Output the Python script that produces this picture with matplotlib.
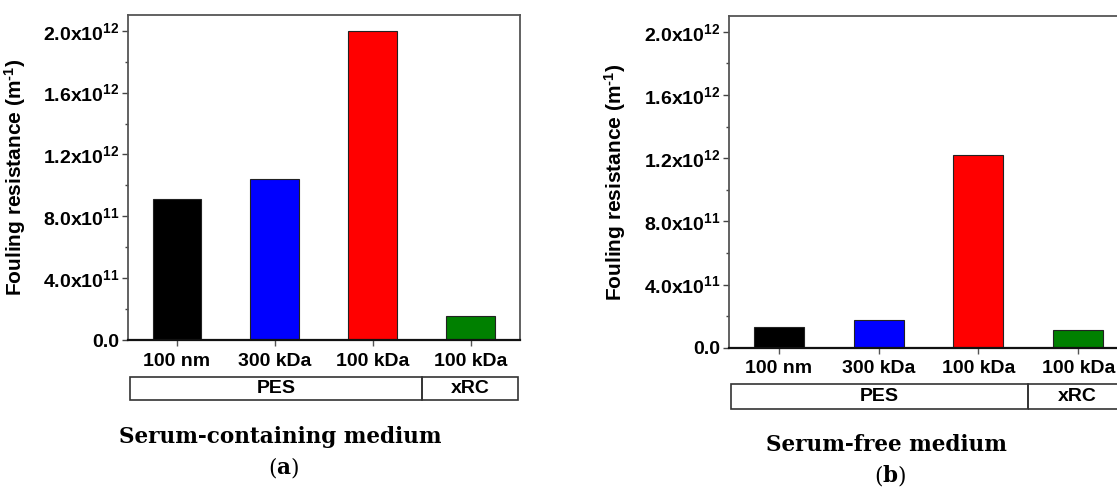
import matplotlib
matplotlib.use("Agg")
import matplotlib.pyplot as plt
import matplotlib.transforms as mtransforms
from matplotlib.patches import Rectangle
from matplotlib.ticker import MultipleLocator, FuncFormatter

# data
membranes = ["100 nm", "300 kDa", "100 kDa", "100 kDa"]
bar_colors = ["#000000", "#0000FF", "#FF0000", "#008000"]
groups = ["PES", "xRC"]
group_sizes = [3, 1]
serum_containing = [0.911e12, 1.040e12, 2.00e12, 0.155e12]
serum_free = [0.133e12, 0.178e12, 1.222e12, 0.110e12]

plt.rcParams["font.family"] = ["Liberation Sans", "DejaVu Sans"]
plt.rcParams["font.weight"] = "bold"
plt.rcParams["mathtext.fontset"] = "custom"
plt.rcParams["mathtext.rm"] = "Liberation Sans:bold"
plt.rcParams["mathtext.it"] = "Liberation Sans:bold"
plt.rcParams["mathtext.bf"] = "Liberation Sans:bold"
plt.rcParams["mathtext.default"] = "rm"


def sci(v, pos):
    if v == 0:
        return "0.0"
    e = len(str(int(v))) - 1
    return "%.1fx10$^{%d}$" % (v / 10**e, e)


def panel(ax, values, box_y, label_x):
    x = list(range(1, len(values) + 1))
    ax.bar(x, values, width=0.5, color=bar_colors, edgecolor="#222222", linewidth=0.8)
    ax.set_xlim(0.5, 4.5)
    ax.set_ylim(0, 2.1e12)
    ax.yaxis.set_major_locator(MultipleLocator(0.4e12))
    ax.yaxis.set_minor_locator(MultipleLocator(0.2e12))
    ax.yaxis.set_major_formatter(FuncFormatter(sci))
    ax.set_xticks(x)
    ax.set_xticklabels(membranes)
    ax.tick_params(axis="y", which="major", direction="out", length=4, width=1,
                   color="#444444", labelsize=14, pad=2)
    ax.tick_params(axis="y", which="minor", direction="out", length=2.5, width=1,
                   color="#444444")
    ax.tick_params(axis="x", direction="out", length=4, width=1, color="#555555",
                   labelsize=14, pad=5)
    for s in ["top", "right", "left"]:
        ax.spines[s].set_color("#555555")
        ax.spines[s].set_linewidth(1.3)
    ax.spines["bottom"].set_color("#111111")
    ax.spines["bottom"].set_linewidth(1.6)
    ax.set_ylabel(r"Fouling resistance (m$^{\text{-}1}$)", fontsize=15, fontweight="bold")
    ax.yaxis.set_label_coords(label_x, 0.5)

    # group boxes under the tick labels
    trans = mtransforms.blended_transform_factory(ax.transData, ax.transAxes)
    y0, y1 = box_y
    start = 0.52
    edge = 0.5
    for name, n in zip(groups, group_sizes):
        end = edge + n
        right = end if end < 4.5 else 4.48
        ax.add_patch(Rectangle((start, y1), right - start, y0 - y1, transform=trans,
                               fill=False, edgecolor="#333333", linewidth=1.2,
                               clip_on=False))
        ax.text((start + right) / 2, (y0 + y1) / 2, name, transform=trans,
                ha="center", va="center", fontsize=14, fontweight="bold")
        start = end
        edge = end


fig = plt.figure(figsize=(11.17, 4.9), dpi=100)
ax1 = fig.add_axes([0.1146, 0.3061, 0.3509, 0.6627])
ax2 = fig.add_axes([0.6524, 0.2904, 0.3577, 0.6769])

panel(ax1, serum_containing, (-0.114, -0.185), -0.255)
panel(ax2, serum_free, (-0.110, -0.185), -0.252)


def caption(x, y, title, letter):
    fig.text(x, y, title, ha="center", va="center", fontsize=15.5,
             fontweight="bold", family="DejaVu Serif")
    t = fig.text(x - 0.007, y - 0.064, "(", ha="center", va="center", fontsize=15.5,
                 fontweight="normal", family="DejaVu Serif")
    t2 = plt.annotate(letter, xycoords=t, xy=(1, 0), va="bottom", fontsize=15.5,
                      fontweight="bold", family="DejaVu Serif")
    plt.annotate(")", xycoords=t2, xy=(1, 0), va="bottom", fontsize=15.5,
                 fontweight="normal", family="DejaVu Serif")


caption(280 / 1117, 1 - 437 / 490, "Serum-containing medium", "a")
caption(886 / 1117, 1 - 445 / 490, "Serum-free medium", "b")

fig.savefig("out.png", dpi=100)
